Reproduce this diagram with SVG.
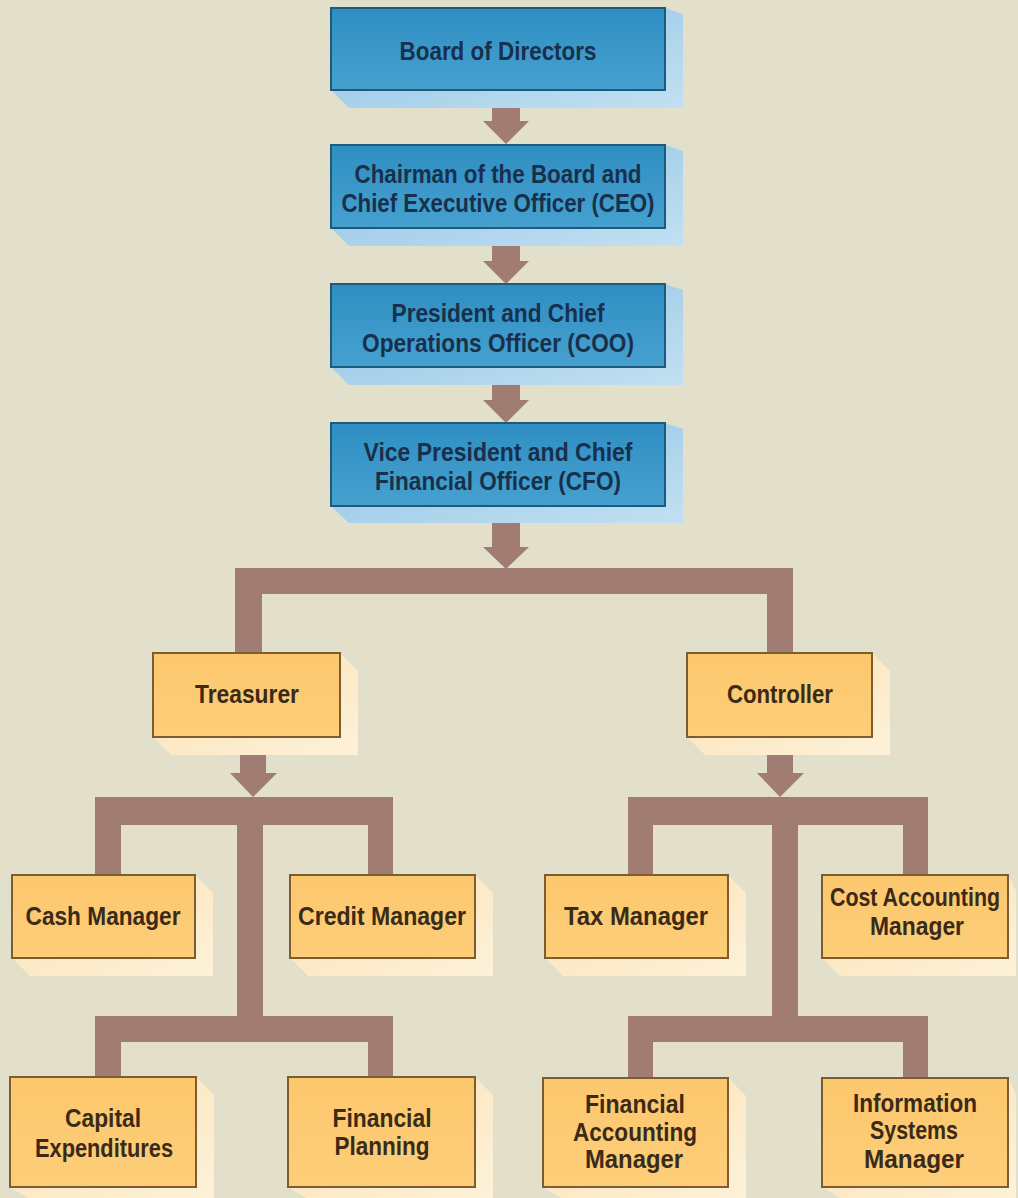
<svg xmlns="http://www.w3.org/2000/svg" width="1018" height="1198" viewBox="0 0 1018 1198">
<defs>
<linearGradient id="blueFill" x1="0" y1="0" x2="0" y2="1">
<stop offset="0" stop-color="#2f8ec2"/>
<stop offset="1" stop-color="#46a1cf"/>
</linearGradient>
<linearGradient id="blueShadow" x1="0" y1="0" x2="1" y2="1">
<stop offset="0" stop-color="#8fc2e4"/>
<stop offset="1" stop-color="#c2e0f2"/>
</linearGradient>
<linearGradient id="yellowFill" x1="0" y1="0" x2="0" y2="1">
<stop offset="0" stop-color="#fcc86e"/>
<stop offset="1" stop-color="#fdcd78"/>
</linearGradient>
<linearGradient id="yellowShadow" x1="0" y1="0" x2="1" y2="1">
<stop offset="0" stop-color="#fbe2b4"/>
<stop offset="1" stop-color="#fdf1d8"/>
</linearGradient>
</defs>
<style>
.bbox{fill:url(#blueFill);stroke:#1d5a7c;stroke-width:2}
.bshadow{fill:url(#blueShadow)}
.ybox{fill:url(#yellowFill);stroke:#7d5c32;stroke-width:2}
.yshadow{fill:url(#yellowShadow)}
.conn{fill:#a07c72}
.bt{font-family:"Liberation Sans",Arial,sans-serif;font-weight:bold;font-size:25px;fill:#18304c;text-anchor:middle}
.yt{font-family:"Liberation Sans",Arial,sans-serif;font-weight:bold;font-size:25px;fill:#3a2a18;text-anchor:middle}
</style>
<rect x="0" y="0" width="1018" height="1198" fill="#e2dfcb"/>

<g id="connectors">
<path class="conn" d="M492,108 H520 V121 H529 L506,144 L483,121 H492 Z"/>
<path class="conn" d="M492,246 H520 V261 H529 L506,284 L483,261 H492 Z"/>
<path class="conn" d="M492,385 H520 V400 H529 L506,423 L483,400 H492 Z"/>
<path class="conn" d="M492,523 H520 V547 H529 L506,569 L483,547 H492 Z"/>
<path class="conn" d="M235,653 V568 H793 V653 H767 V594 H262 V653 Z"/>
<path class="conn" d="M240,755 H266 V773 H277 L253,797 L230,773 H240 Z"/>
<path class="conn" d="M95,875 V797 H393 V875 H368 V825 H263 V1016 H393 V1077 H368 V1042 H121 V1077 H95 V1016 H237 V825 H121 V875 Z"/>
<path class="conn" d="M767,755 H793 V773 H804 L780,797 L757,773 H767 Z"/>
<path class="conn" d="M628,875 V797 H928 V875 H903 V825 H798 V1016 H928 V1078 H903 V1042 H653 V1078 H628 V1016 H772 V825 H653 V875 Z"/>
</g>

<g id="board">
<polygon class="bshadow" points="331,90 349,108 683,108 683,14 665,8"/>
<rect class="bbox" x="331" y="8" width="334" height="82"/>
<text class="bt" x="498" y="60" textLength="197" lengthAdjust="spacingAndGlyphs">Board of Directors</text>
</g>
<g id="ceo">
<polygon class="bshadow" points="331,228 349,246 683,246 683,151 665,145"/>
<rect class="bbox" x="331" y="145" width="334" height="83"/>
<text class="bt" x="498" y="183" textLength="287" lengthAdjust="spacingAndGlyphs">Chairman of the Board and</text>
<text class="bt" x="498" y="212" textLength="313" lengthAdjust="spacingAndGlyphs">Chief Executive Officer (CEO)</text>
</g>
<g id="coo">
<polygon class="bshadow" points="331,367 349,385 683,385 683,290 665,284"/>
<rect class="bbox" x="331" y="284" width="334" height="83"/>
<text class="bt" x="498" y="322" textLength="213" lengthAdjust="spacingAndGlyphs">President and Chief</text>
<text class="bt" x="498" y="352" textLength="272" lengthAdjust="spacingAndGlyphs">Operations Officer (COO)</text>
</g>
<g id="cfo">
<polygon class="bshadow" points="331,506 349,523 683,523 683,429 665,423"/>
<rect class="bbox" x="331" y="423" width="334" height="83"/>
<text class="bt" x="498" y="461" textLength="269" lengthAdjust="spacingAndGlyphs">Vice President and Chief</text>
<text class="bt" x="498" y="490" textLength="246" lengthAdjust="spacingAndGlyphs">Financial Officer (CFO)</text>
</g>

<g id="treasurer">
<polygon class="yshadow" points="153,737 171,755 358,755 358,671 340,653"/>
<rect class="ybox" x="153" y="653" width="187" height="84"/>
<text class="yt" x="247" y="703" textLength="104" lengthAdjust="spacingAndGlyphs">Treasurer</text>
</g>
<g id="controller">
<polygon class="yshadow" points="687,737 705,755 890,755 890,671 872,653"/>
<rect class="ybox" x="687" y="653" width="185" height="84"/>
<text class="yt" x="780" y="703" textLength="106" lengthAdjust="spacingAndGlyphs">Controller</text>
</g>

<g id="cash-manager">
<polygon class="yshadow" points="12,958 30,976 213,976 213,893 195,875"/>
<rect class="ybox" x="12" y="875" width="183" height="83"/>
<text class="yt" x="103" y="925" textLength="155" lengthAdjust="spacingAndGlyphs">Cash Manager</text>
</g>
<g id="credit-manager">
<polygon class="yshadow" points="290,958 308,976 493,976 493,893 475,875"/>
<rect class="ybox" x="290" y="875" width="185" height="83"/>
<text class="yt" x="382" y="925" textLength="168" lengthAdjust="spacingAndGlyphs">Credit Manager</text>
</g>
<g id="tax-manager">
<polygon class="yshadow" points="545,958 563,976 746,976 746,893 728,875"/>
<rect class="ybox" x="545" y="875" width="183" height="83"/>
<text class="yt" x="636" y="925" textLength="144" lengthAdjust="spacingAndGlyphs">Tax Manager</text>
</g>
<g id="cost-accounting-manager">
<polygon class="yshadow" points="822,958 840,976 1016,976 1016,891 1008,875"/>
<rect class="ybox" x="822" y="875" width="186" height="83"/>
<text class="yt" x="915" y="906" font-size="23" textLength="170" lengthAdjust="spacingAndGlyphs">Cost Accounting</text>
<text class="yt" x="917" y="935" textLength="94" lengthAdjust="spacingAndGlyphs">Manager</text>
</g>

<g id="capital-expenditures">
<polygon class="yshadow" points="10,1187 28,1198 214,1198 214,1095 196,1077"/>
<rect class="ybox" x="10" y="1077" width="186" height="110"/>
<text class="yt" x="103" y="1127" textLength="76" lengthAdjust="spacingAndGlyphs">Capital</text>
<text class="yt" x="104" y="1157" textLength="138" lengthAdjust="spacingAndGlyphs">Expenditures</text>
</g>
<g id="financial-planning">
<polygon class="yshadow" points="288,1187 306,1198 493,1198 493,1095 475,1077"/>
<rect class="ybox" x="288" y="1077" width="187" height="110"/>
<text class="yt" x="382" y="1127" textLength="99" lengthAdjust="spacingAndGlyphs">Financial</text>
<text class="yt" x="382" y="1155" textLength="95" lengthAdjust="spacingAndGlyphs">Planning</text>
</g>
<g id="financial-accounting-manager">
<polygon class="yshadow" points="543,1187 561,1198 746,1198 746,1096 728,1078"/>
<rect class="ybox" x="543" y="1078" width="185" height="109"/>
<text class="yt" x="635" y="1113" textLength="100" lengthAdjust="spacingAndGlyphs">Financial</text>
<text class="yt" x="635" y="1141" textLength="124" lengthAdjust="spacingAndGlyphs">Accounting</text>
<text class="yt" x="634" y="1168" textLength="98" lengthAdjust="spacingAndGlyphs">Manager</text>
</g>
<g id="information-systems-manager">
<polygon class="yshadow" points="822,1187 840,1198 1016,1198 1016,1094 1008,1078"/>
<rect class="ybox" x="822" y="1078" width="186" height="109"/>
<text class="yt" x="915" y="1112" textLength="124" lengthAdjust="spacingAndGlyphs">Information</text>
<text class="yt" x="914" y="1139" textLength="88" lengthAdjust="spacingAndGlyphs">Systems</text>
<text class="yt" x="914" y="1168" textLength="100" lengthAdjust="spacingAndGlyphs">Manager</text>
</g>
</svg>
